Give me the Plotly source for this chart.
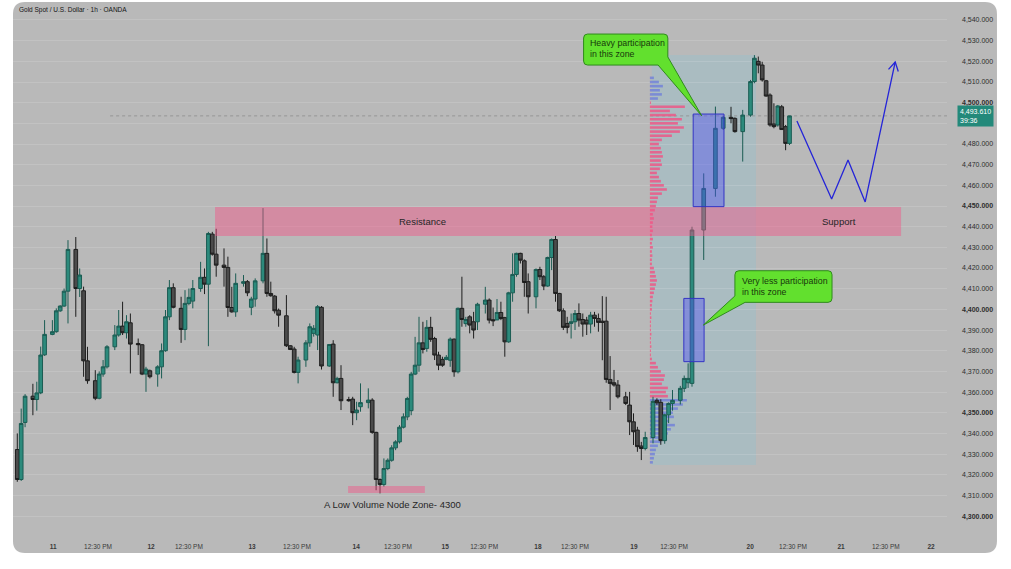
import math
import plotly.graph_objects as go

TITLE = "Gold Spot / U.S. Dollar · 1h · OANDA"

# ---------------- data ----------------
# hour slot of every 1h candle (gaps = empty hours on the compressed time scale)
bar_no = [0, 1, 2, 4, 5, 6, 7, 9, 10, 11, 12, 13, 15, 16, 17, 18, 20, 21, 22, 23, 25, 26, 27, 28, 29,
          31, 32, 33, 34, 36, 37, 38, 39, 40, 42, 43, 44, 45, 47, 48, 49,
          50, 51, 53, 54, 55, 56, 58, 59, 60, 61, 63, 64, 65, 66, 67, 69, 70, 71, 72, 74, 75, 76, 77, 78,
          80, 81, 82, 83, 85, 86, 87, 88, 90, 91, 92,
          93, 94, 95, 96, 97, 98, 99, 100, 101, 102, 103, 104, 105, 106, 107, 108, 109, 110, 111, 112, 113,
          114, 115, 116, 117, 118, 120, 121, 122, 123, 124, 125, 126, 127, 128, 129, 130, 131, 133, 134,
          135, 136, 137, 138,
          139, 140, 141, 142, 143, 144, 145, 146, 147, 148, 149, 150, 151,
          152, 153, 154, 156, 157, 158, 159, 160, 161, 163, 164, 165, 166, 167, 168, 170, 171, 172, 173,
          176, 179, 181, 183, 184, 186, 188, 189, 190, 191, 192, 193, 194, 195, 196, 197, 198]

opens = [4332.2, 4317.7, 4345.3, 4358.0, 4356.4, 4359.6, 4378.0, 4387.9, 4389.2, 4399.3, 4401.6, 4408.8,
         4429.0, 4410.1, 4409.0, 4375.1, 4365.5, 4357.0, 4368.7, 4372.2, 4381.9, 4387.6, 4391.9, 4388.7,
         4393.5, 4383.5, 4382.9, 4368.7, 4370.3, 4368.7, 4372.2, 4380.0, 4396.4, 4410.5, 4400.5, 4390.3,
         4402.9, 4404.0, 4410.1, 4415.5, 4412.2,
         4436.4, 4426.7, 4421.4, 4420.3, 4400.9, 4398.8, 4412.6, 4413.4, 4401.0, 4405.0, 4413.8, 4427.1,
         4407.7, 4406.4, 4399.6, 4396.9, 4382.4, 4380.8, 4369.5, 4375.5, 4383.8, 4388.4, 4387.6, 4401.0,
         4372.6, 4383.2, 4364.5, 4366.6, 4356.4, 4356.6, 4350.0, 4352.9, 4354.9, 4356.1, 4340.5,
         4317.7, 4315.3, 4323.0, 4327.0, 4333.0, 4335.9, 4343.0, 4348.0, 4351.0, 4368.7, 4373.0, 4383.8,
         4381.1, 4391.3, 4385.9, 4377.9, 4375.8, 4375.8, 4375.4, 4385.6, 4369.8,
         4400.5, 4393.1, 4396.4, 4394.0, 4394.0, 4402.5, 4404.5, 4395.0, 4394.9, 4398.5, 4396.0, 4384.3,
         4408.0, 4416.9, 4427.1, 4423.5, 4413.4, 4406.1, 4419.3, 4415.8, 4411.3, 4425.1, 4433.8,
         4407.7, 4399.3, 4393.2, 4393.2, 4394.0, 4398.0, 4395.1, 4394.8, 4392.9, 4397.2, 4395.6, 4394.3,
         4394.3,
         4366.1, 4364.5, 4363.4, 4357.7, 4353.7, 4345.6, 4341.6, 4333.9, 4332.7, 4338.0, 4356.0, 4355.0,
         4336.5, 4349.0, 4354.5, 4356.0, 4361.8, 4364.5, 4364.2,
         4438.4, 4458.5, 4487.6, 4492.9, 4492.4, 4486.0, 4494.0, 4510.2, 4520.0, 4518.2, 4510.6, 4503.7,
         4489.7, 4489.2, 4498.0, 4488.4, 4480.3]

highs = [4340.0, 4352.0, 4359.0, 4364.0, 4365.0, 4382.0, 4394.8, 4394.8, 4400.5, 4402.0, 4410.1, 4433.5,
         4435.0, 4419.8, 4411.0, 4381.9, 4370.6, 4370.0, 4375.5, 4382.7, 4392.4, 4399.7, 4403.7, 4397.2,
         4398.0, 4385.9, 4383.2, 4372.2, 4370.9, 4373.0, 4383.5, 4399.7, 4414.2, 4412.6, 4406.1, 4409.3,
         4410.1, 4414.2, 4423.0, 4419.8, 4437.5,
         4437.5, 4439.0, 4429.5, 4425.5, 4410.9, 4417.4, 4416.6, 4414.2, 4406.1, 4415.0, 4449.0, 4434.3,
         4413.4, 4406.9, 4400.4, 4406.9, 4382.7, 4381.9, 4377.1, 4385.1, 4393.2, 4392.4, 4402.1, 4401.6,
         4383.2, 4385.1, 4367.4, 4373.0, 4357.7, 4357.7, 4355.3, 4364.2, 4361.8, 4357.0, 4340.8,
         4318.2, 4327.9, 4327.9, 4334.3, 4336.7, 4344.0, 4349.7, 4357.7, 4369.8, 4386.7, 4396.4, 4394.0,
         4394.8, 4396.4, 4386.7, 4379.5, 4377.1, 4377.9, 4386.4, 4385.9, 4400.9,
         4415.8, 4396.4, 4397.2, 4398.8, 4403.2, 4410.9, 4405.3, 4400.9, 4405.0, 4403.7, 4396.4, 4408.5,
         4427.1, 4427.4, 4427.4, 4424.2, 4417.4, 4419.8, 4420.6, 4416.6, 4425.5, 4434.3, 4435.5,
         4408.0, 4400.5, 4396.4, 4398.0, 4399.7, 4402.9, 4398.0, 4396.4, 4398.8, 4398.8, 4398.0, 4406.4,
         4406.1,
         4377.4, 4370.7, 4365.8, 4360.1, 4360.1, 4349.7, 4343.2, 4335.9, 4340.8, 4357.7, 4357.0, 4356.5,
         4349.5, 4355.0, 4361.0, 4363.0, 4368.0, 4373.9, 4440.0,
         4465.8, 4498.1, 4493.5, 4498.0, 4492.9, 4496.5, 4511.0, 4523.0, 4522.3, 4519.8, 4511.0, 4504.5,
         4499.7, 4498.9, 4498.9, 4489.2, 4492.9]

lows = [4316.6, 4317.0, 4343.0, 4348.8, 4351.0, 4359.0, 4377.5, 4387.5, 4388.7, 4398.8, 4401.2, 4393.2,
        4396.4, 4406.0, 4367.4, 4364.0, 4356.1, 4356.5, 4367.4, 4371.4, 4380.3, 4386.8, 4387.6, 4385.9,
        4369.0, 4377.9, 4368.2, 4360.1, 4366.6, 4362.6, 4366.6, 4379.5, 4394.8, 4400.5, 4383.8, 4385.1,
        4402.0, 4400.5, 4408.5, 4407.4, 4382.2,
        4426.0, 4415.8, 4411.0, 4396.4, 4398.4, 4396.4, 4411.0, 4406.4, 4397.2, 4401.3, 4412.6, 4406.1,
        4406.1, 4398.0, 4391.6, 4381.8, 4380.3, 4369.0, 4364.2, 4372.2, 4381.9, 4386.8, 4380.3, 4370.9,
        4372.2, 4357.7, 4364.2, 4351.3, 4355.3, 4344.0, 4346.4, 4350.5, 4352.1, 4339.8, 4312.5,
        4311.0, 4314.2, 4322.2, 4326.3, 4331.9, 4335.1, 4342.4, 4346.4, 4348.8, 4368.2, 4369.8, 4378.7,
        4379.5, 4384.3, 4375.5, 4370.6, 4372.2, 4375.4, 4372.2, 4367.4, 4369.0,
        4391.6, 4391.6, 4388.4, 4385.9, 4390.0, 4398.0, 4393.2, 4391.9, 4394.8, 4394.8, 4377.1, 4383.8,
        4403.7, 4415.8, 4422.2, 4406.1, 4398.0, 4400.5, 4414.2, 4409.3, 4410.9, 4419.0, 4403.7,
        4398.8, 4390.0, 4388.4, 4385.9, 4390.0, 4391.6, 4386.8, 4387.6, 4388.4, 4391.6, 4389.2, 4375.4,
        4364.5,
        4351.3, 4362.6, 4356.9, 4353.7, 4339.2, 4334.4, 4331.1, 4327.1, 4331.8, 4335.2, 4353.7, 4334.5,
        4335.0, 4345.0, 4351.0, 4354.0, 4360.0, 4362.0, 4362.6,
        4423.9, 4454.5, 4486.8, 4490.0, 4485.5, 4471.5, 4493.2, 4509.4, 4514.2, 4510.2, 4502.9, 4488.4,
        4487.6, 4488.4, 4486.8, 4477.0, 4479.5]

closes = [4317.7, 4344.8, 4358.0, 4356.4, 4359.6, 4377.9, 4387.9, 4389.2, 4399.3, 4401.6, 4408.8, 4429.0,
          4410.1, 4416.6, 4375.1, 4365.5, 4357.0, 4368.7, 4372.2, 4381.9, 4387.6, 4391.9, 4388.7, 4394.0,
          4383.2, 4382.9, 4368.7, 4371.1, 4367.4, 4372.2, 4380.0, 4396.4, 4410.5, 4401.0, 4390.3, 4402.9,
          4405.8, 4410.1, 4415.5, 4412.2, 4436.7,
          4426.7, 4421.4, 4420.3, 4400.9, 4398.8, 4412.6, 4413.4, 4408.0, 4405.0, 4413.8, 4427.1, 4407.7,
          4406.6, 4399.3, 4397.2, 4382.4, 4380.6, 4369.5, 4375.5, 4383.8, 4391.6, 4390.8, 4401.3, 4372.6,
          4383.0, 4364.5, 4366.6, 4355.8, 4355.8, 4350.0, 4351.3, 4354.9, 4356.1, 4340.5, 4317.7,
          4315.3, 4323.0, 4327.0, 4333.0, 4335.9, 4343.0, 4348.0, 4356.9, 4368.7, 4373.0, 4383.8, 4380.6,
          4391.3, 4385.5, 4377.9, 4373.0, 4373.0, 4376.8, 4385.6, 4369.8, 4400.5,
          4395.1, 4395.1, 4392.4, 4390.0, 4402.5, 4404.5, 4394.8, 4394.5, 4398.5, 4395.6, 4384.3, 4408.0,
          4416.9, 4427.1, 4423.8, 4413.0, 4406.1, 4419.3, 4415.8, 4411.3, 4425.1, 4433.8, 4407.7,
          4399.3, 4391.3, 4391.3, 4394.0, 4398.0, 4394.8, 4392.9, 4392.9, 4397.2, 4395.6, 4393.7, 4393.7,
          4366.1,
          4364.2, 4363.4, 4357.7, 4354.5, 4345.6, 4340.8, 4333.6, 4332.7, 4338.0, 4355.5, 4354.8, 4336.5,
          4349.0, 4354.5, 4356.0, 4361.8, 4366.6, 4366.6, 4438.4,
          4458.5, 4487.6, 4492.9, 4492.3, 4486.0, 4494.0, 4510.2, 4521.5, 4518.2, 4511.0, 4503.2, 4489.2,
          4488.4, 4498.4, 4487.0, 4480.3, 4493.61]

# time-axis labels (positions on the hour-slot scale)
x_tick_pos = [9.2, 20.7, 34.3, 44.0, 60.2, 71.7, 86.9, 97.6, 109.7, 119.7, 133.5, 143.0,
              158.1, 168.4, 187.9, 198.9, 211.2, 222.7, 234.3]
x_tick_labels = ["11", "12:30 PM", "12", "12:30 PM", "13", "12:30 PM", "14", "12:30 PM", "15", "12:30 PM",
                 "18", "12:30 PM", "19", "12:30 PM", "20", "12:30 PM", "21", "12:30 PM", "22"]
x_tick_is_day = [True, False, True, False, True, False, True, False, True, False,
                 True, False, True, False, True, False, True, False, True]

price_ticks = [4300, 4310, 4320, 4330, 4340, 4350, 4360, 4370, 4380, 4390, 4400, 4410, 4420,
               4430, 4440, 4450, 4460, 4470, 4480, 4490, 4500, 4510, 4520, 4530, 4540]

# fixed-range volume profile (price level -> volume)
vp_price = [4326, 4328, 4330, 4332, 4334, 4336, 4338, 4340, 4342, 4344, 4346, 4348, 4350, 4352, 4354, 4356,
            4358, 4360, 4362, 4364, 4366, 4368, 4370, 4372, 4374, 4376,
            4378, 4380, 4382, 4384, 4386, 4388, 4390, 4392, 4394, 4396, 4398,
            4400, 4402, 4404, 4406, 4408, 4410, 4412, 4414, 4416, 4418, 4420,
            4422, 4424, 4426, 4428, 4430, 4432, 4434, 4436, 4438, 4440, 4442, 4444, 4446,
            4448, 4450, 4452, 4454, 4456, 4458, 4460, 4462, 4464, 4466, 4468, 4470, 4472, 4474, 4476, 4478, 4480,
            4482, 4484, 4486, 4488, 4490, 4492, 4494, 4496, 4498,
            4500, 4502, 4504, 4506, 4508, 4510, 4512]
vp_volume = [3, 4, 5, 6, 8, 11, 14, 18, 21, 25, 19, 24, 23, 28, 33, 37,
             18, 16, 18, 12, 14, 15, 11, 8, 6, 2,
             1, 1, 1.5, 1, 1, 1.5, 1, 1, 1, 1.5, 1,
             2, 2, 2.5, 3, 4, 5, 6, 7, 6, 5, 4,
             2, 2, 2.5, 2, 3, 2, 3, 2, 3, 2.5, 3, 4, 3,
             5, 6, 7, 8, 12, 17, 14, 11, 9, 7, 10, 12, 11, 13, 12, 11, 9,
             12, 22, 30, 34, 28, 32, 26, 20, 35,
             1, 8, 12, 10, 13, 9, 4]
VALUE_AREA = (4358, 4500)

# projected path drawn after the last candle
proj_x = [199.9, 208.8, 213.0, 217.4, 225.1]
proj_y = [4491.1, 4453.4, 4472.3, 4452.0, 4519.7]

assert len(bar_no) == len(opens) == len(highs) == len(lows) == len(closes)
assert len(vp_price) == len(vp_volume)

# ---------------- style ----------------
BG = "#b9b9b9"
FONT = "Liberation Sans, Arial, sans-serif"
PX_PER_SLOT = 3.9      # horizontal pixels per hour slot
PX_PER_USD = 2.067     # vertical pixels per dollar
X_RANGE = [-1.10, 238.38]
Y_RANGE = [4292.3, 4548.7]
PINK = "rgba(245,85,135,0.45)"
GREEN = "#62e02e"
GREEN_LINE = "#2f8a1c"

fig = go.Figure()

# volume profile (drawn first so candles sit on top)
VP_BASE = 162.2
in_va = [VALUE_AREA[0] <= p <= VALUE_AREA[1] for p in vp_price]
pink_y = [p for p, k in zip(vp_price, in_va) if k]
pink_x = [v / PX_PER_SLOT for v, k in zip(vp_volume, in_va) if k]
blue_y = [p for p, k in zip(vp_price, in_va) if not k]
blue_x = [v / PX_PER_SLOT for v, k in zip(vp_volume, in_va) if not k]
fig.add_trace(go.Bar(orientation="h", y=pink_y, x=pink_x, base=VP_BASE, width=1.25,
                     marker=dict(color="rgba(236,88,135,0.85)", line=dict(width=0)),
                     hoverinfo="skip", showlegend=False))
fig.add_trace(go.Bar(orientation="h", y=blue_y, x=blue_x, base=VP_BASE, width=1.25,
                     marker=dict(color="rgba(105,120,220,0.72)", line=dict(width=0)),
                     hoverinfo="skip", showlegend=False))

fig.add_trace(go.Candlestick(
    x=bar_no, open=opens, high=highs, low=lows, close=closes,
    increasing=dict(line=dict(color="#1b5c53", width=1), fillcolor="#2c8a7c"),
    decreasing=dict(line=dict(color="#1e1e1e", width=1), fillcolor="#4b4b4b"),
    whiskerwidth=0, hoverinfo="skip", showlegend=False))

fig.add_trace(go.Scatter(x=proj_x, y=proj_y, mode="lines",
                         line=dict(color="#2424d8", width=1.3),
                         hoverinfo="skip", showlegend=False))

shapes = []
# rounded chart card (paper coordinates)
cx0, cx1, cy0, cy1 = 0.0, 1.0535, -0.0396, 1.0
crx, cry = 12 / 934, 12 / 530
card_path = (f"M {cx0+crx},{cy1} L {cx1-crx},{cy1} Q {cx1},{cy1} {cx1},{cy1-cry} "
             f"L {cx1},{cy0+cry} Q {cx1},{cy0} {cx1-crx},{cy0} L {cx0+crx},{cy0} "
             f"Q {cx0},{cy0} {cx0},{cy0+cry} L {cx0},{cy1-cry} Q {cx0},{cy1} {cx0+crx},{cy1} Z")
shapes.append(dict(type="path", path=card_path, xref="paper", yref="paper",
                   fillcolor=BG, line=dict(width=0), layer="below"))

# range shading of the volume-profile window
shapes.append(dict(type="rect", xref="x", yref="y", x0=162.7, x1=189.4, y0=4324.7, y1=4523.0,
                   fillcolor="rgba(120,200,222,0.22)", line=dict(width=0), layer="below"))

# last price dotted line
shapes.append(dict(type="line", xref="x", yref="y", x0=23.8, x1=X_RANGE[1], y0=closes[-1], y1=closes[-1],
                   line=dict(color="#8c8c8c", width=0.8, dash="dot"), layer="below"))

# resistance / support band and low volume node zone
shapes.append(dict(type="rect", xref="x", yref="y", x0=50.7, x1=226.6, y0=4435.5, y1=4449.5,
                   fillcolor=PINK, line=dict(width=0), layer="above"))
shapes.append(dict(type="rect", xref="x", yref="y", x0=84.8, x1=104.5, y0=4311.2, y1=4314.6,
                   fillcolor=PINK, line=dict(width=0), layer="above"))

# participation boxes
shapes.append(dict(type="rect", xref="x", yref="y", x0=173.3, x1=181.2, y0=4449.7, y1=4494.5,
                   fillcolor="rgba(80,80,245,0.42)", line=dict(color="#3434c4", width=1), layer="above"))
shapes.append(dict(type="rect", xref="x", yref="y", x0=170.9, x1=176.1, y0=4374.7, y1=4405.3,
                   fillcolor="rgba(80,80,245,0.42)", line=dict(color="#3434c4", width=1), layer="above"))

# speech bubbles
rx, ry = 4 / PX_PER_SLOT, 4 / PX_PER_USD


def bubble_right_tail(x0, x1, y0, y1, edge_y, tip, base_x):
    return (f"M {x0+rx},{y1} L {x1-rx},{y1} Q {x1},{y1} {x1},{y1-ry} L {x1},{edge_y} "
            f"L {tip[0]},{tip[1]} L {base_x},{y0} L {x0+rx},{y0} Q {x0},{y0} {x0},{y0+ry} "
            f"L {x0},{y1-ry} Q {x0},{y1} {x0+rx},{y1} Z")


def bubble_left_tail(x0, x1, y0, y1, edge_y, tip, base_x):
    return (f"M {x0+rx},{y1} L {x1-rx},{y1} Q {x1},{y1} {x1},{y1-ry} L {x1},{y0+ry} "
            f"Q {x1},{y0} {x1-rx},{y0} L {base_x},{y0} L {tip[0]},{tip[1]} L {x0},{edge_y} "
            f"L {x0},{y1-ry} Q {x0},{y1} {x0+rx},{y1} Z")


shapes.append(dict(type="path", xref="x", yref="y",
                   path=bubble_right_tail(145.2, 166.8, 4518.2, 4533.2, 4522.1, (175.5, 4493.6), 164.3),
                   fillcolor=GREEN, line=dict(color=GREEN_LINE, width=1), layer="above"))
shapes.append(dict(type="path", xref="x", yref="y",
                   path=bubble_left_tail(184.0, 208.9, 4403.4, 4418.7, 4406.5, (175.9, 4392.4), 186.6),
                   fillcolor=GREEN, line=dict(color=GREEN_LINE, width=1), layer="above"))

# chevron arrow head at the end of the projection
dxp = (proj_x[-1] - proj_x[-2]) * PX_PER_SLOT
dyp = (proj_y[-1] - proj_y[-2]) * PX_PER_USD
L = math.hypot(dxp, dyp)
ux, uy = -dxp / L, -dyp / L
wings = []
for sgn in (1, -1):
    a = math.radians(30) * sgn
    wx = (ux * math.cos(a) - uy * math.sin(a)) * 10
    wy = (ux * math.sin(a) + uy * math.cos(a)) * 10
    wings.append((proj_x[-1] + wx / PX_PER_SLOT, proj_y[-1] + wy / PX_PER_USD))
shapes.append(dict(type="path", xref="x", yref="y",
                   path=f"M {wings[0][0]},{wings[0][1]} L {proj_x[-1]},{proj_y[-1]} L {wings[1][0]},{wings[1][1]}",
                   line=dict(color="#2424d8", width=1.3), layer="above"))

annotations = [
    dict(text=TITLE, xref="paper", yref="paper", x=0.0043, y=0.985, xanchor="left", yanchor="middle",
         showarrow=False, font=dict(family=FONT, size=6.5, color="#151515")),
    dict(text="Resistance", xref="x", yref="y", x=104.0, y=4442.3, showarrow=False,
         font=dict(family=FONT, size=9.5, color="#262626")),
    dict(text="Support", xref="x", yref="y", x=210.7, y=4442.3, showarrow=False,
         font=dict(family=FONT, size=9.5, color="#262626")),
    dict(text="A Low Volume Node Zone- 4300", xref="x", yref="y", x=96.1, y=4305.4, showarrow=False,
         font=dict(family=FONT, size=9.5, color="#262626")),
    dict(text="Heavy participation<br>in this zone", xref="x", yref="y", x=146.3, y=4526.2,
         xanchor="left", yanchor="middle", align="left", showarrow=False,
         font=dict(family=FONT, size=8.8, color="#173a0c")),
    dict(text="Very less participation<br>in this zone", xref="x", yref="y", x=185.3, y=4411.3,
         xanchor="left", yanchor="middle", align="left", showarrow=False,
         font=dict(family=FONT, size=8.8, color="#173a0c")),
    dict(text=f"{closes[-1]:,.3f}<br>39:36", xref="paper", yref="y", x=1.0107, y=closes[-1],
         xanchor="left", yanchor="middle", align="left", showarrow=False,
         bgcolor="#23897a", borderpad=2, font=dict(family=FONT, size=7, color="#ffffff")),
]

x_text = [f"<b>{t}</b>" if d else t for t, d in zip(x_tick_labels, x_tick_is_day)]
# the 4,490 label sits under the live price tag, so it is left blank like in the terminal
y_text = ["" if abs(p - closes[-1]) < 6 else (f"<b>{p:,.3f}</b>" if p % 50 == 0 else f"{p:,.3f}")
          for p in price_ticks]

fig.update_layout(
    width=1011, height=569,
    margin=dict(l=13, r=64, t=2, b=37),
    paper_bgcolor="#ffffff", plot_bgcolor="rgba(0,0,0,0)",
    barmode="overlay", boxgap=0.06, boxgroupgap=0,
    hovermode=False, showlegend=False,
    shapes=shapes, annotations=annotations,
    xaxis=dict(range=X_RANGE, showgrid=False, zeroline=False, showline=False,
               tickmode="array", tickvals=x_tick_pos, ticktext=x_text, ticks="",
               ticklabelstandoff=9, tickfont=dict(family=FONT, size=6.5, color="#3a3a3a"),
               rangeslider=dict(visible=False), fixedrange=True),
    yaxis=dict(range=Y_RANGE, side="right", showgrid=True, gridcolor="rgba(255,255,255,0.13)",
               gridwidth=1, zeroline=False, showline=False,
               tickmode="array", tickvals=price_ticks, ticktext=y_text, ticks="",
               ticklabelstandoff=14, tickfont=dict(family=FONT, size=7, color="#2e2e2e"),
               fixedrange=True),
)

fig.write_html("out.html", config={"displayModeBar": False},
               post_script="document.body.style.margin='0px';document.body.style.overflow='hidden';")
